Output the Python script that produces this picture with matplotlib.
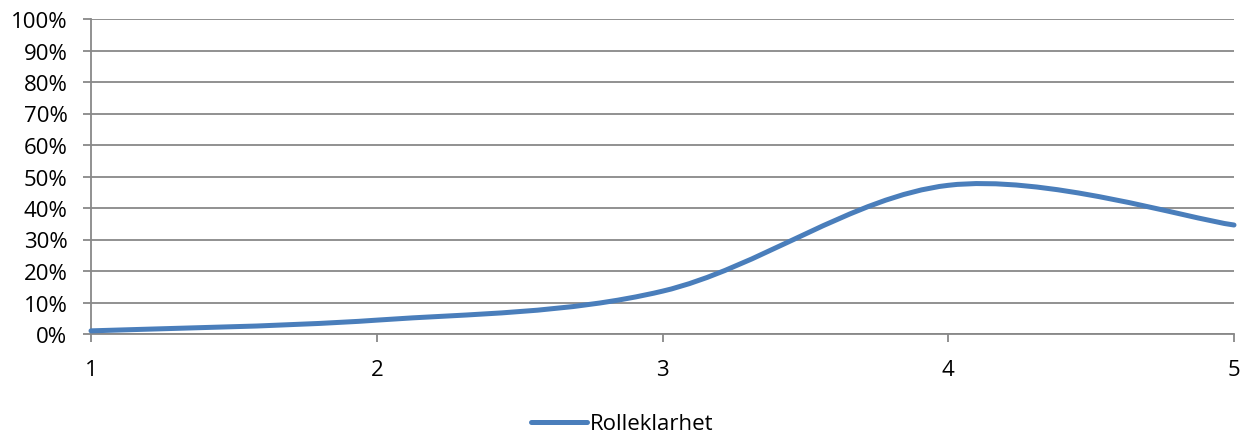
import numpy as np
import matplotlib.pyplot as plt
from matplotlib.path import Path
from matplotlib.patches import PathPatch
from matplotlib.lines import Line2D

# data
x_vals = [1, 2, 3, 4, 5]
rolleklarhet = [0.010, 0.044, 0.136, 0.472, 0.346]
y_ticks = [i / 10 for i in range(11)]
y_labels = [f'{int(round(t * 100))}%' for t in y_ticks]

plt.rcParams['font.family'] = ['Open Sans', 'DejaVu Sans']

line_col = '#4a7ebb'
grid_col = '#888888'

fig = plt.figure(figsize=(12.45, 4.39), dpi=100)
ax = fig.add_axes([91 / 1245, 1 - 335 / 439, (1234 - 91) / 1245, 315 / 439])

# smoothed line like the spreadsheet: Catmull-Rom style Bezier segments
pts = np.column_stack([x_vals, rolleklarhet])
n = len(pts)
verts = [tuple(pts[0])]
codes = [Path.MOVETO]
for i in range(n - 1):
    p0 = pts[max(i - 1, 0)]
    p1 = pts[i]
    p2 = pts[i + 1]
    p3 = pts[min(i + 2, n - 1)]
    c1 = p1 + (p2 - p0) / 6
    c2 = p2 - (p3 - p1) / 6
    verts += [tuple(c1), tuple(c2), tuple(p2)]
    codes += [Path.CURVE4] * 3
patch = PathPatch(Path(verts, codes), facecolor='none', edgecolor=line_col,
                  lw=3.6, capstyle='round', zorder=3, clip_on=False)
ax.add_patch(patch)

ax.set_xlim(1, 5)
ax.set_ylim(0, 1)
ax.set_yticks(y_ticks)
ax.set_yticklabels(y_labels)
ax.set_xticks(x_vals)
ax.set_xticklabels([str(v) for v in x_vals])

ax.grid(axis='y', color=grid_col, lw=1.3)
ax.set_axisbelow(True)
for s in ['top', 'right']:
    ax.spines[s].set_visible(False)
for s in ['left', 'bottom']:
    ax.spines[s].set_color(grid_col)
    ax.spines[s].set_linewidth(1.3)
ax.tick_params(axis='y', length=6, width=1.3, color=grid_col, labelsize=16, pad=11)
ax.tick_params(axis='x', length=6, width=1.3, color=grid_col, labelsize=16, pad=12)

handle = Line2D([], [], color=line_col, lw=3.6, solid_capstyle='round')
fig.legend([handle], ['Rolleklarhet'], loc='center', bbox_to_anchor=(0.5, 1 - 425 / 439),
           frameon=False, fontsize=16, handlelength=2.5, handletextpad=0.15)

fig.savefig('out.png', dpi=100)
